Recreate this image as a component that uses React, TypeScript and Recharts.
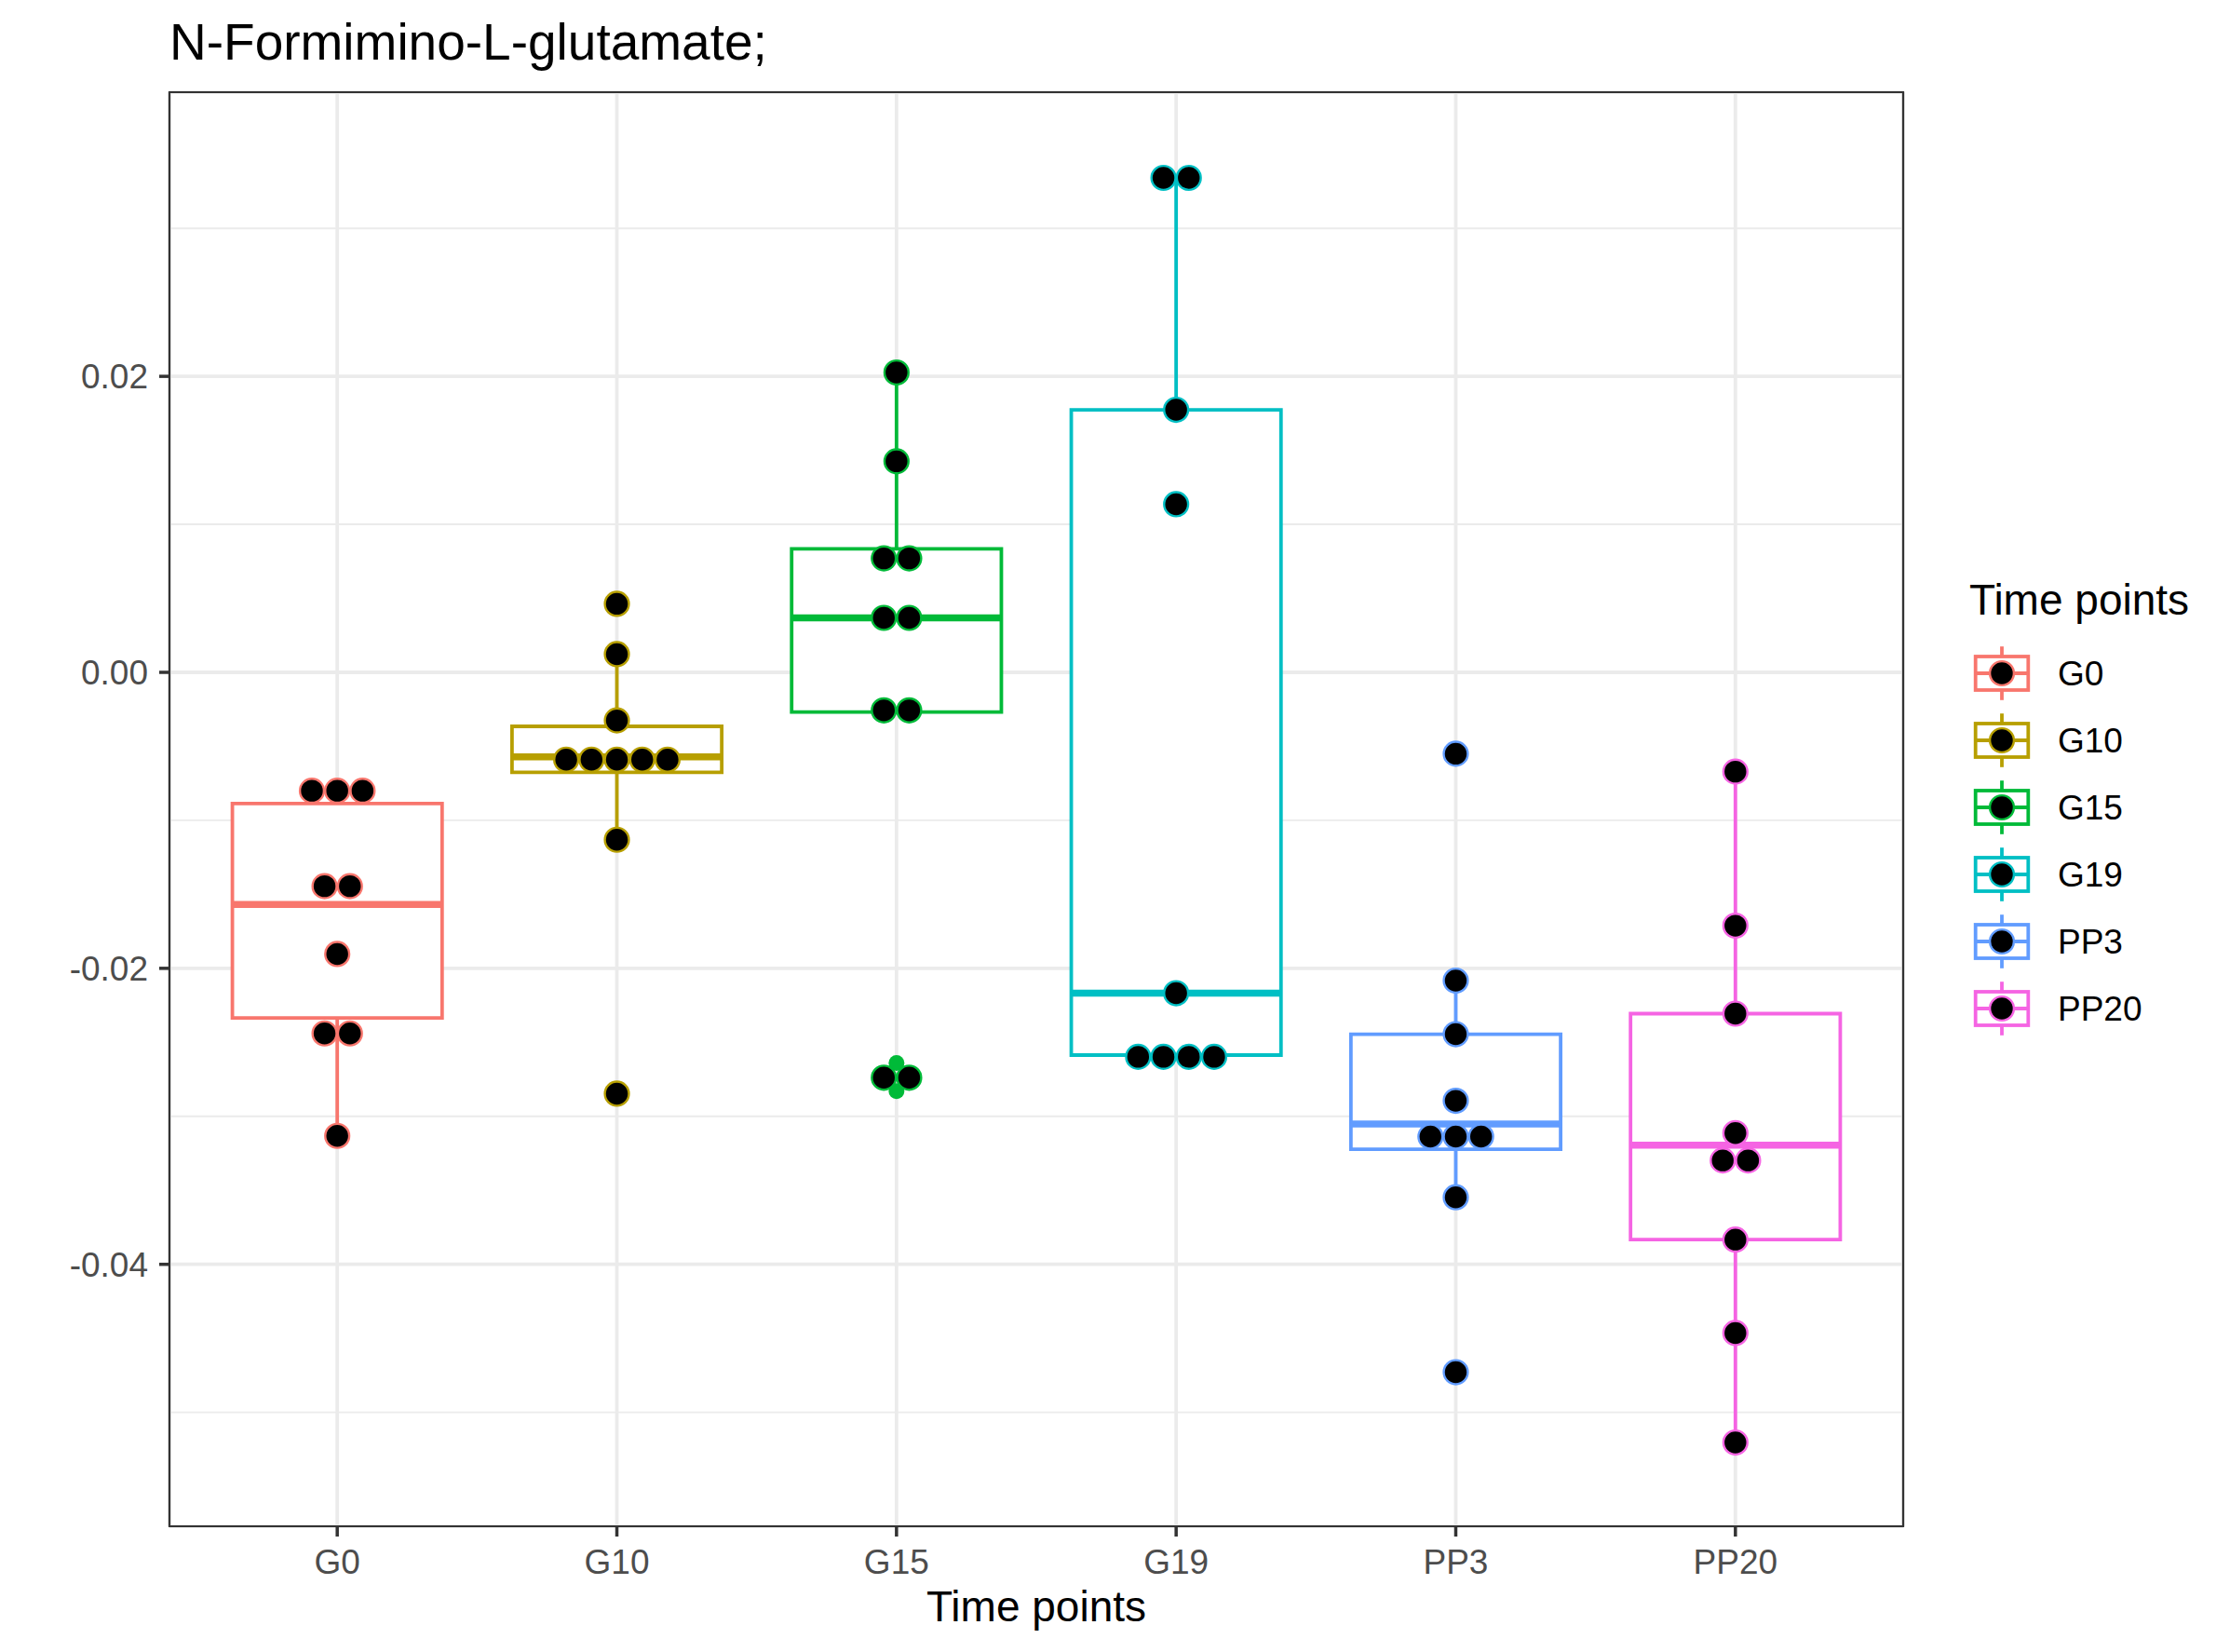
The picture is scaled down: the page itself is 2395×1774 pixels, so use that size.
import {
    ComposedChart,
    Scatter,
    XAxis,
    YAxis,
    CartesianGrid,
    ReferenceArea,
    ReferenceLine
} from "recharts";

const GROUPS = ["G0", "G10", "G15", "G19", "PP3", "PP20"];
const COLORS = ["#F8766D", "#B79F00", "#00BA38", "#00BFC4", "#619CFF", "#F564E3"];

// dot positions (binned values)
const G0_VALUES = [-0.0080, -0.0080, -0.0080, -0.01445, -0.01445, -0.01903, -0.0244, -0.0244, -0.03132];
const G10_VALUES = [0.00463, 0.00123, -0.00325, -0.0059, -0.0059, -0.0059, -0.0059, -0.0059, -0.01131, -0.02847];
const G15_VALUES = [0.02026, 0.01426, 0.0077, 0.0077, 0.00368, 0.00368, -0.00257, -0.00257, -0.02739, -0.02739];
const G19_VALUES = [0.03341, 0.03341, 0.01774, 0.01136, -0.02168, -0.02598, -0.02598, -0.02598, -0.02598];
const PP3_VALUES = [-0.0055, -0.02083, -0.02445, -0.02895, -0.03137, -0.03137, -0.03137, -0.03547, -0.04729];
const PP20_VALUES = [-0.00671, -0.01712, -0.02306, -0.03113, -0.03298, -0.03298, -0.03833, -0.04464, -0.05204];

// box statistics per group
const LOWER_WHISKER = [-0.03132, -0.01131, -0.00268, -0.02586, -0.03547, -0.05204];
const Q1 = [-0.02335, -0.00676, -0.00268, -0.02586, -0.03223, -0.03833];
const MEDIAN = [-0.01569, -0.00571, 0.00368, -0.02168, -0.03052, -0.03195];
const Q3 = [-0.00887, -0.00365, 0.00834, 0.01774, -0.02445, -0.02306];
const UPPER_WHISKER = [-0.0080, 0.00123, 0.02026, 0.03341, -0.02083, -0.00671];

const OUTLIER_GROUPS = ["G10", "G10", "G15", "G15", "PP3", "PP3"];
const OUTLIER_VALUES = [0.00463, -0.02847, -0.0264, -0.0283, -0.0055, -0.04729];

const Y_MAJOR = [-0.04, -0.02, 0, 0.02];
const Y_MINOR = [-0.05, -0.03, -0.01, 0.01, 0.03];
const Y_DOMAIN = [-0.0577, 0.0392];

const FONT = "'Liberation Sans', Arial, Helvetica, sans-serif";
const BOX_WIDTH = 0.75;
const DOT_STEP = 27.2;

const VALUES = [G0_VALUES, G10_VALUES, G15_VALUES, G19_VALUES, PP3_VALUES, PP20_VALUES];

// stack dots of the same bin side by side (centered)
const dots = VALUES.flatMap((values, g) => {
    const counts = new Map<number, number>();
    values.forEach((v) => counts.set(v, (counts.get(v) ?? 0) + 1));
    const seen = new Map<number, number>();
    return values.map((v) => {
        const k = counts.get(v) as number;
        const i = seen.get(v) ?? 0;
        seen.set(v, i + 1);
        return { x: g + 1, y: v, slot: i - (k - 1) / 2, color: COLORS[g] };
    });
});

const outliers = OUTLIER_VALUES.map((v, i) => {
    const g = GROUPS.indexOf(OUTLIER_GROUPS[i]);
    return { x: g + 1, y: v, color: COLORS[g] };
});

const DotShape = (props: any) => {
    const { cx, cy, payload } = props;
    return (
        <circle
            cx={cx + payload.slot * DOT_STEP}
            cy={cy}
            r={12.9}
            fill="#000000"
            stroke={payload.color}
            strokeWidth={2.4}
        />
    );
};

const OutlierShape = (props: any) => {
    const { cx, cy, payload } = props;
    return <circle cx={cx} cy={cy} r={8.5} fill={payload.color} />;
};

const LegendKey = ({ color }: { color: string }) => (
    <svg width={72} height={72}>
        <line x1={36} x2={36} y1={7.2} y2={18} stroke={color} strokeWidth={3.8} />
        <line x1={36} x2={36} y1={54} y2={64.8} stroke={color} strokeWidth={3.8} />
        <rect x={7.7} y={18} width={56.6} height={36} fill="#ffffff" stroke={color} strokeWidth={3.8} />
        <line x1={7.7} x2={64.3} y1={36} y2={36} stroke={color} strokeWidth={3.8} />
        <circle cx={36} cy={36} r={12.9} fill="#000000" stroke={color} strokeWidth={2.4} />
    </svg>
);

const App = () => {
    return (
        <div
            style={{
                position: "absolute",
                left: 0,
                top: 0,
                width: 2395,
                height: 1774,
                background: "#ffffff",
                fontFamily: FONT
            }}
        >
            <div
                style={{
                    position: "absolute",
                    left: 182,
                    top: 18,
                    fontSize: 55,
                    lineHeight: "55px",
                    color: "#000000",
                    whiteSpace: "nowrap"
                }}
            >
                N-Formimino-L-glutamate;
            </div>

            <ComposedChart
                width={2395}
                height={1774}
                margin={{ top: 99, right: 351, bottom: 0, left: 0 }}
            >
                <CartesianGrid
                    horizontalValues={Y_MINOR}
                    vertical={false}
                    stroke="#EBEBEB"
                    strokeWidth={1.9}
                />
                <CartesianGrid stroke="#EBEBEB" strokeWidth={3.8} />
                <XAxis
                    type="number"
                    dataKey="x"
                    domain={[0.4, 6.6]}
                    ticks={[1, 2, 3, 4, 5, 6]}
                    tickFormatter={(v: number) => GROUPS[v - 1]}
                    allowDataOverflow
                    height={135}
                    axisLine={false}
                    tickSize={11}
                    tickMargin={14}
                    tickLine={{ stroke: "#333333", strokeWidth: 3.5 }}
                    tick={{ fill: "#4D4D4D", fontSize: 37, fontFamily: FONT }}
                />
                <YAxis
                    type="number"
                    dataKey="y"
                    domain={Y_DOMAIN}
                    ticks={Y_MAJOR}
                    tickFormatter={(v: number) => v.toFixed(2)}
                    allowDataOverflow
                    width={182}
                    axisLine={false}
                    tickSize={11}
                    tickMargin={12}
                    tickLine={{ stroke: "#333333", strokeWidth: 3.5 }}
                    tick={{ fill: "#4D4D4D", fontSize: 37, fontFamily: FONT }}
                />

                {GROUPS.map((g, i) =>
                    UPPER_WHISKER[i] > Q3[i] ? (
                        <ReferenceLine
                            key={`uw-${g}`}
                            segment={[{ x: i + 1, y: Q3[i] }, { x: i + 1, y: UPPER_WHISKER[i] }]}
                            stroke={COLORS[i]}
                            strokeWidth={3.8}
                        />
                    ) : null
                )}
                {GROUPS.map((g, i) =>
                    LOWER_WHISKER[i] < Q1[i] ? (
                        <ReferenceLine
                            key={`lw-${g}`}
                            segment={[{ x: i + 1, y: Q1[i] }, { x: i + 1, y: LOWER_WHISKER[i] }]}
                            stroke={COLORS[i]}
                            strokeWidth={3.8}
                        />
                    ) : null
                )}
                {GROUPS.map((g, i) => (
                    <ReferenceArea
                        key={`box-${g}`}
                        x1={i + 1 - BOX_WIDTH / 2}
                        x2={i + 1 + BOX_WIDTH / 2}
                        y1={Q1[i]}
                        y2={Q3[i]}
                        fill="#ffffff"
                        fillOpacity={1}
                        stroke={COLORS[i]}
                        strokeWidth={3.8}
                    />
                ))}
                {GROUPS.map((g, i) => (
                    <ReferenceLine
                        key={`med-${g}`}
                        segment={[
                            { x: i + 1 - BOX_WIDTH / 2, y: MEDIAN[i] },
                            { x: i + 1 + BOX_WIDTH / 2, y: MEDIAN[i] }
                        ]}
                        stroke={COLORS[i]}
                        strokeWidth={7.5}
                    />
                ))}

                <Scatter
                    data={outliers}
                    dataKey="y"
                    shape={OutlierShape}
                    isAnimationActive={false}
                />
                <Scatter
                    data={dots}
                    dataKey="y"
                    shape={DotShape}
                    isAnimationActive={false}
                />

                <ReferenceArea
                    x1={0.4}
                    x2={6.6}
                    y1={Y_DOMAIN[0]}
                    y2={Y_DOMAIN[1]}
                    fill="none"
                    stroke="#333333"
                    strokeWidth={2.2}
                />
            </ComposedChart>

            <div
                style={{
                    position: "absolute",
                    left: 182,
                    width: 1862,
                    top: 1702,
                    fontSize: 46,
                    lineHeight: "46px",
                    textAlign: "center",
                    color: "#000000"
                }}
            >
                Time points
            </div>

            <div
                style={{
                    position: "absolute",
                    left: 2115,
                    top: 621,
                    fontSize: 46,
                    lineHeight: "46px",
                    color: "#000000",
                    whiteSpace: "nowrap"
                }}
            >
                Time points
            </div>
            {GROUPS.map((g, i) => (
                <div
                    key={`legend-${g}`}
                    style={{ position: "absolute", left: 2114, top: 687 + i * 72, height: 72 }}
                >
                    <LegendKey color={COLORS[i]} />
                    <span
                        style={{
                            position: "absolute",
                            left: 96,
                            top: 18,
                            fontSize: 37,
                            lineHeight: "37px",
                            color: "#000000",
                            whiteSpace: "nowrap"
                        }}
                    >
                        {g}
                    </span>
                </div>
            ))}
        </div>
    );
};

export default App;
